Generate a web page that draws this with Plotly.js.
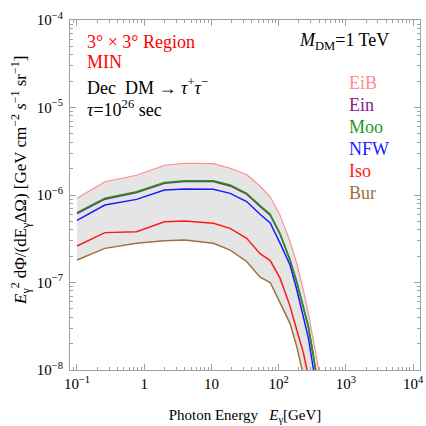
<!DOCTYPE html>
<html>
<head>
<meta charset="utf-8">
<script src="https://cdn.plot.ly/plotly-3.0.1.min.js"></script>
<style>html,body{margin:0;padding:0;background:#fff}#chart{width:426px;height:426px}</style>
</head>
<body>
<div id="chart"></div>
<script>
// Photon energy grid (GeV)
const energy = [0.1, 0.26, 0.77, 2.0, 4.0, 10.7, 19, 33.5, 53, 75, 105, 148, 186, 233, 277, 328, 390, 500];
// log10 of E^2 dPhi/(dE dOmega) for each halo profile
const logEiB = [-6.038, -5.848, -5.775, -5.660, -5.638, -5.642, -5.695, -5.766, -5.900, -6.020, -6.230, -6.530, -6.780, -7.080, -7.350, -7.670, -7.970, -9.0];
const logMoo = [-6.202, -6.038, -5.962, -5.857, -5.836, -5.836, -5.886, -5.980, -6.120, -6.220, -6.440, -6.740, -6.990, -7.270, -7.500, -7.830, -8.200, -9.2];
const logEin = [-6.212, -6.048, -5.972, -5.867, -5.846, -5.846, -5.896, -5.990, -6.130, -6.230, -6.448, -6.746, -6.995, -7.275, -7.505, -7.833, -8.200, -9.2];
const logNFW = [-6.290, -6.114, -6.050, -5.943, -5.931, -5.935, -5.981, -6.075, -6.220, -6.320, -6.550, -6.800, -7.080, -7.380, -7.630, -7.980, -8.350, -9.3];
const logIso = [-6.583, -6.430, -6.419, -6.305, -6.297, -6.324, -6.381, -6.495, -6.670, -6.750, -6.950, -7.270, -7.540, -7.800, -8.070, -8.440, -8.850, -9.5];
const logBur = [-6.743, -6.610, -6.552, -6.522, -6.514, -6.552, -6.629, -6.760, -6.940, -7.000, -7.230, -7.470, -7.730, -8.040, -8.250, -8.550, -8.950, -9.6];

const profileNames = ["EiB", "Ein", "Moo", "NFW", "Iso", "Bur"];
const xTickVals = [0.1, 1, 10, 100, 1000, 10000];
const xTickText = ["10<sup>−1</sup>", "1", "10", "10<sup>2</sup>", "10<sup>3</sup>", "10<sup>4</sup>"];
const yTickVals = [1e-8, 1e-7, 1e-6, 1e-5, 1e-4];
const yTickText = ["10<sup>−8</sup>", "10<sup>−7</sup>", "10<sup>−6</sup>", "10<sup>−5</sup>", "10<sup>−4</sup>"];
const yTitle = "<i>E</i><sub>γ</sub><sup>2</sup> dΦ/(dE<sub>γ</sub>ΔΩ) [GeV cm<sup>−2</sup> <i>s</i><sup>−1</sup> sr<sup>−1</sup>]";

const pow = a => a.map(v => Math.pow(10, v));
const colors = {EiB: "#ff8c8c", Ein: "#8b1a8b", Moo: "#1a9a1a", NFW: "#1a1aff", Iso: "#ff1a1a", Bur: "#a2703c"};
const series = {EiB: logEiB, Ein: logEin, Moo: logMoo, NFW: logNFW, Iso: logIso, Bur: logBur};

function minorVals(lo, hi) {
  const out = [];
  for (let d = lo; d < hi; d++) for (let k = 2; k <= 9; k++) out.push(k * Math.pow(10, d));
  return out;
}

const serif = "Liberation Serif, Times New Roman, serif";
const traces = [
  {x: energy, y: pow(logBur), mode: "lines", line: {width: 0}, hoverinfo: "skip", showlegend: false},
  {x: energy, y: pow(logEiB), mode: "lines", line: {width: 0}, fill: "tonexty", fillcolor: "#e5e5e5", hoverinfo: "skip", showlegend: false}
];
["EiB", "Bur", "Iso", "NFW", "Ein", "Moo"].forEach(n => {
  traces.push({x: energy, y: pow(series[n]), mode: "lines", name: n, showlegend: false,
    line: {color: colors[n], width: n === "EiB" ? 1.1 : 1.5}});
});

const annotations = [
  {text: "3° × 3° Region", x: 85, y: 42, color: "#ff0000"},
  {text: "MIN", x: 85, y: 62, color: "#ff0000"},
  {text: "Dec  DM → <i>τ</i><sup>+</sup><i>τ</i><sup>−</sup>", x: 85, y: 87, color: "#000"},
  {text: "<i>τ</i>=10<sup>26</sup> sec", x: 85, y: 109, color: "#000"},
  {text: "<i>M</i><sub>DM</sub>=1 TeV", x: 297, y: 42, color: "#000"}
].map(a => ({text: a.text, xref: "paper", yref: "paper", x: (a.x - 70) / 350, y: 1 - (a.y - 20) / 350,
  xanchor: "left", yanchor: "middle", showarrow: false, font: {family: serif, size: 18, color: a.color}}));
profileNames.forEach((n, i) => {
  annotations.push({text: n, xref: "paper", yref: "paper", x: (347 - 70) / 350, y: 1 - (83 + i * 22 - 20) / 350,
    xanchor: "left", yanchor: "middle", showarrow: false, font: {family: serif, size: 18, color: colors[n]}});
});
// y-axis title placed as rotated text
annotations.push({text: yTitle, textangle: -90, xref: "paper", yref: "paper", x: (20 - 70) / 350, y: 1 - (181 - 20) / 350,
  xanchor: "center", yanchor: "middle", showarrow: false, font: {family: serif, size: 17, color: "#000"}});

const axisCommon = {showline: true, mirror: "allticks", linecolor: "#a0a0a0", linewidth: 1, ticks: "inside",
  tickcolor: "#a0a0a0", ticklen: 6, showgrid: false, zeroline: false, tickfont: {family: serif, size: 15, color: "#000"}};

const layout = {
  width: 426, height: 426,
  margin: {l: 70, r: 6, t: 20, b: 56},
  paper_bgcolor: "#fff", plot_bgcolor: "#fff",
  showlegend: false,
  xaxis: Object.assign({}, axisCommon, {type: "log", range: [-1.104, 4.104], tickmode: "array", tickvals: xTickVals, ticktext: xTickText,
    minor: {tickmode: "array", tickvals: minorVals(-2, 4), ticks: "inside", ticklen: 3, tickcolor: "#a0a0a0", showgrid: false},
    title: {text: "Photon Energy   <i>E</i><sub>γ</sub>[GeV]", font: {family: serif, size: 15, color: "#000"}, standoff: 18}}),
  yaxis: Object.assign({}, axisCommon, {type: "log", range: [-8, -4], tickmode: "array", tickvals: yTickVals, ticktext: yTickText,
    ticklabelstandoff: 3,
    minor: {tickmode: "array", tickvals: minorVals(-8, -4), ticks: "inside", ticklen: 3, tickcolor: "#a0a0a0", showgrid: false}}),
  annotations: annotations
};

Plotly.newPlot("chart", traces, layout, {displayModeBar: false, staticPlot: true});
</script>
</body>
</html>
